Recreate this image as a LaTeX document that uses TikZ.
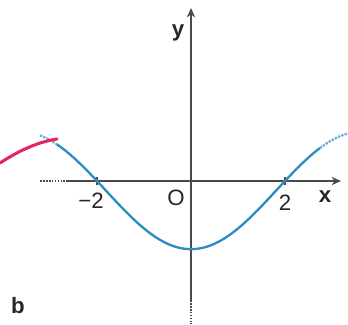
\documentclass[tikz,border=0pt]{standalone}
\usepackage{fontspec}
\setmainfont{Liberation Sans}
\usetikzlibrary{arrows.meta}
\definecolor{AxisGray}{HTML}{4A4A4A}
\definecolor{CurveBlue}{HTML}{2F8CC2}
\definecolor{InkPink}{HTML}{E8235F}
\begin{document}
\begin{tikzpicture}[
    x=0.03cm,y=-0.03cm,
    font=\fontsize{19}{21}\selectfont,
    axis/.style={line width=1.5pt,AxisGray},
    guide/.style={axis,densely dotted},
    tip/.style={-{Stealth[length=8pt,width=7pt]}},
    curve/.style={line width=2pt,CurveBlue},
    trail/.style={curve,densely dotted,CurveBlue!70},
    ink/.style={line width=2.6pt,InkPink,line cap=round},
    lbl/.style={inner sep=0pt,text=black!85},
    varlbl/.style={lbl,font=\fontsize{19}{21}\selectfont\bfseries}
  ]
    \useasboundingbox (0,0) rectangle (348,324);

    % axes
    \coordinate (xdot) at (40,181);
    \coordinate (xlow) at (66,181);
    \coordinate (xend) at (341,181);
    \coordinate (ytop) at (191,8);
    \coordinate (ylow) at (191,300);
    \coordinate (ydot) at (191,324);
    \draw[guide] (xdot) -- (xlow);
    \draw[axis,tip] (xlow) -- (xend);
    \draw[axis,tip] (ylow) -- (ytop);
    \draw[guide] (ylow) -- (ydot);

    % ticks
    \coordinate (tkl) at (97,181);
    \coordinate (tkr) at (285,181);
    \draw[axis] ([yshift=-3]tkl) -- ([yshift=3]tkl);
    \draw[axis] ([yshift=-3]tkr) -- ([yshift=3]tkr);

    % graph
    \draw[trail] plot[domain=40:57,samples=10,smooth] (\x,{181+47*(0.2+1.25*cos(deg(0.866*(\x-191)/47)))});
    \draw[curve] plot[domain=57:320,samples=90,smooth] (\x,{181+47*(0.2+1.25*cos(deg(0.866*(\x-191)/47)))});
    \draw[trail] plot[domain=320:348,samples=12,smooth] (\x,{181+47*(0.2+1.25*cos(deg(0.866*(\x-191)/47)))});

    % handwritten stroke
    \coordinate (inka) at (0,163);
    \coordinate (inkb) at (57,139);
    \draw[ink] (inka) .. controls (20,150) and (38,142) .. (inkb);

    % labels
    \node[varlbl] (ylab) at (178,33) {y};
    \node[varlbl] (xlab) at (325,197) {x};
    \node[lbl] (olab) at (176,198) {O};
    \node[lbl] (mtwo) at (91,201) {−2};
    \node[lbl] (ptwo) at (285,203) {2};
    \node[varlbl] (blab) at (18,306) {b};
  \end{tikzpicture}
\end{document}
